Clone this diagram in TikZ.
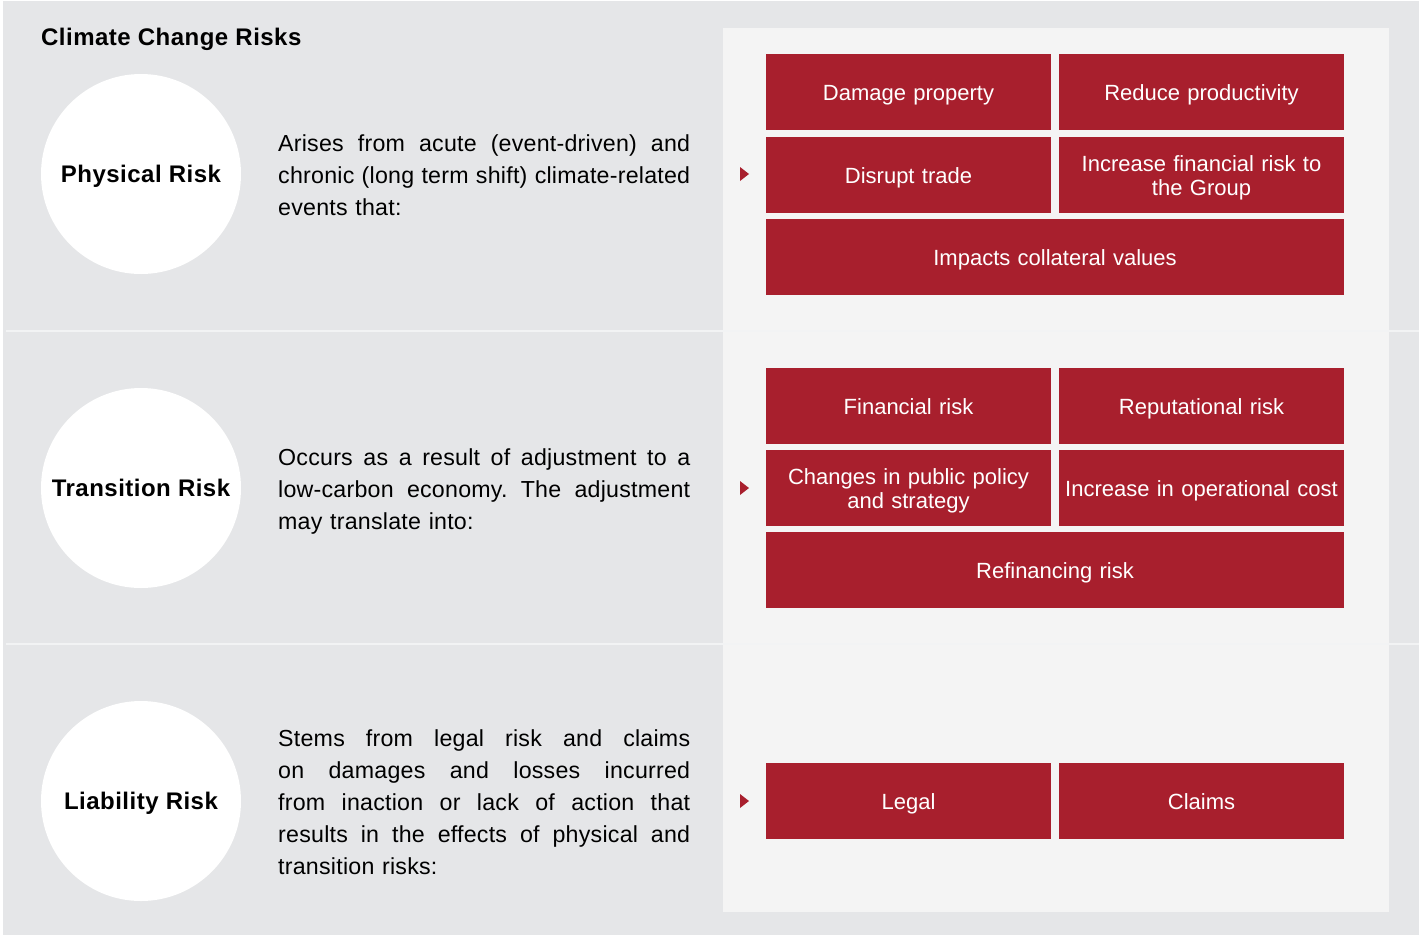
\documentclass[tikz,border=0pt]{standalone}
\usepackage{fontspec}
\setmainfont{Liberation Sans}
\newfontfamily\trk[LetterSpace=2]{Liberation Sans}
\newfontfamily\trkb[LetterSpace=1]{Liberation Sans}
\newcommand{\jline}[1]{\leavevmode\hbox to 412pt{\frenchspacing\spaceskip=0.278em plus 1fil\relax #1}}
\definecolor{bggrey}{HTML}{E5E6E8}
\definecolor{panel}{HTML}{F4F4F4}
\definecolor{riskred}{HTML}{A81F2D}
\definecolor{divline}{HTML}{F2F3F4}
\tikzset{
  title/.style={anchor=base west, inner sep=0pt, font=\trk\bfseries\fontsize{24}{28}\selectfont},
  riskcircle/.style={circle, fill=white, minimum size=200pt, inner sep=0pt, text height=17pt, text depth=0pt, font=\trk\bfseries\fontsize{24}{28}\selectfont},
  bodytext/.style={anchor=base west, inner sep=0pt, text width=412pt, align=left, font=\trkb\fontsize{23.2}{32}\selectfont},
  rbox/.style={fill=riskred, text=white, inner sep=0pt, minimum height=76pt, align=center, text height=16pt, text depth=0pt, font=\fontsize{22}{24}\selectfont},
  twoline/.style={text depth=24pt},
  halfbox/.style={rbox, minimum width=285pt, text width=280pt},
  fullbox/.style={rbox, minimum width=578pt, text width=570pt},
  marker/.style={fill=riskred},
  divider/.style={draw=divline, line width=2pt}
}
\begin{document}
\begin{tikzpicture}[x=1pt,y=-1pt]
\useasboundingbox (0,0) rectangle (1419,935);
\fill[white] (0,0) rectangle (1419,935);
\fill[bggrey] (3,1) rectangle (1419,935);
\fill[panel] (723,28) rectangle (1389,912);
\draw[divider] (6,331) -- (1419,331);
\draw[divider] (6,644) -- (1419,644);

\node[title] (title) at (41,45) {Climate Change Risks};

% Physical
\node[riskcircle] (phys) at (141,174) {Physical Risk};
\node[bodytext] (physt) at (278,151) {\jline{Arises from acute (event-driven) and}\\
\jline{chronic (long term shift) climate-related}\\
events that:};
\fill[marker] (740,167) -- (749,174) -- (740,181) -- cycle;
\node[halfbox] (p1) at (908.5,92) {Damage property};
\node[halfbox] (p2) at (1201.5,92) {Reduce productivity};
\node[halfbox] (p3) at (908.5,175) {Disrupt trade};
\node[halfbox, twoline] (p4) at (1201.5,175) {Increase financial risk to\\the Group};
\node[fullbox] (p5) at (1055,257) {Impacts collateral values};

% Transition
\node[riskcircle] (trans) at (141,488) {Transition Risk};
\node[bodytext] (transt) at (278,465) {\jline{Occurs as a result of adjustment to a}\\
\jline{low-carbon economy. The adjustment}\\
may translate into:};
\fill[marker] (740,481) -- (749,488) -- (740,495) -- cycle;
\node[halfbox] (t1) at (908.5,406) {Financial risk};
\node[halfbox] (t2) at (1201.5,406) {Reputational risk};
\node[halfbox, twoline] (t3) at (908.5,488) {Changes in public policy\\and strategy};
\node[halfbox] (t4) at (1201.5,488) {Increase in operational cost};
\node[fullbox] (t5) at (1055,570) {Refinancing risk};

% Liability
\node[riskcircle] (liab) at (141,801) {Liability Risk};
\node[bodytext] (liabt) at (278,746) {\jline{Stems from legal risk and claims}\\
\jline{on damages and losses incurred}\\
\jline{from inaction or lack of action that}\\
\jline{results in the effects of physical and}\\
transition risks:};
\fill[marker] (740,794) -- (749,801) -- (740,808) -- cycle;
\node[halfbox] (l1) at (908.5,801) {Legal};
\node[halfbox] (l2) at (1201.5,801) {Claims};
\end{tikzpicture}
\end{document}
